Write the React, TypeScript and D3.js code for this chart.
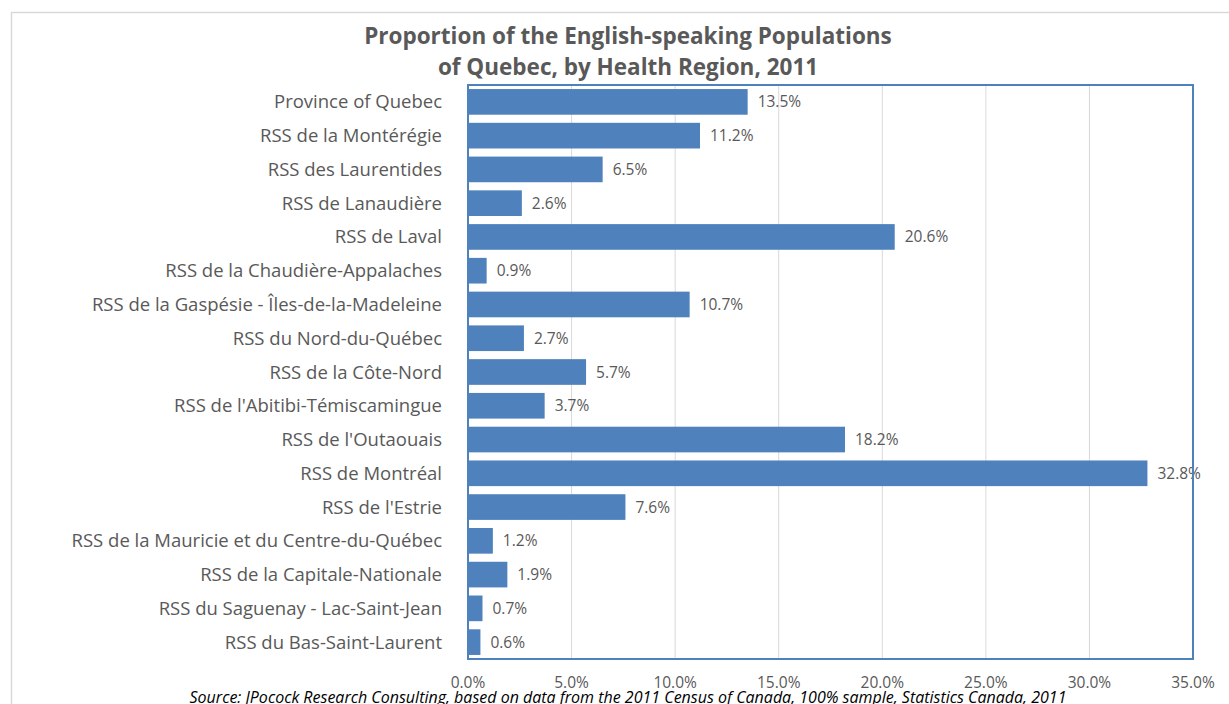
import React from "react";
import * as d3 from "d3";

const categories = [
  "Province of Quebec",
  "RSS de la Montérégie",
  "RSS des Laurentides",
  "RSS de Lanaudière",
  "RSS de Laval",
  "RSS de la Chaudière-Appalaches",
  "RSS de la Gaspésie - Îles-de-la-Madeleine",
  "RSS du Nord-du-Québec",
  "RSS de la Côte-Nord",
  "RSS de l'Abitibi-Témiscamingue",
  "RSS de l'Outaouais",
  "RSS de Montréal",
  "RSS de l'Estrie",
  "RSS de la Mauricie et du Centre-du-Québec",
  "RSS de la Capitale-Nationale",
  "RSS du Saguenay - Lac-Saint-Jean",
  "RSS du Bas-Saint-Laurent",
];
const values = [13.5, 11.2, 6.5, 2.6, 20.6, 0.9, 10.7, 2.7, 5.7, 3.7, 18.2, 32.8, 7.6, 1.2, 1.9, 0.7, 0.6];
const ticks = [0, 5, 10, 15, 20, 25, 30, 35];
const titleLines = ["Proportion of the English-speaking Populations", "of Quebec, by Health Region, 2011"];
const source = "Source: JPocock Research Consulting, based on data from the 2011 Census of Canada, 100% sample, Statistics Canada, 2011";

const W = 1229, H = 704;
const plot = { left: 468, right: 1193, top: 85, bottom: 659 };
const FONT = "'Open Sans', 'Noto Sans', sans-serif";
const GREY = "#595959";
const BLUE = "#4F81BD";

export default function App() {
  const x = d3.scaleLinear().domain([0, 35]).range([plot.left, plot.right]);
  const y = d3.scaleBand<string>().domain(categories).range([plot.top, plot.bottom]).paddingInner(0.24).paddingOuter(0.12);
  return (
    <svg width={W} height={H} style={{ position: "absolute", left: 0, top: 0, background: "#fff" }}>
      <rect x={11.5} y={12.5} width={1240} height={720} fill="#fff" stroke="#D9D9D9" strokeWidth={1.5} />
      {titleLines.map((t, i) => (
        <text key={i} x={628} y={44 + i * 31} textAnchor="middle" fontFamily={FONT} fontWeight="bold" fontSize={22.5} fill={GREY}>
          {t}
        </text>
      ))}
      {ticks.map((t) => (
        <line key={t} x1={x(t)} x2={x(t)} y1={plot.top} y2={plot.bottom} stroke="#D9D9D9" strokeWidth={1} />
      ))}
      {categories.map((c, i) => {
        const by = y(c)!;
        const bh = y.bandwidth();
        return (
          <g key={c}>
            <rect x={x(0)} y={by} width={x(values[i]) - x(0)} height={bh} fill={BLUE} />
            <text x={x(values[i]) + 10} y={by + bh / 2 + 5.5} fontFamily={FONT} fontSize={15.5} fill={GREY}>
              {values[i].toFixed(1)}%
            </text>
            <text x={442} y={by + bh / 2 + 6.5} textAnchor="end" fontFamily={FONT} fontSize={18.5} fill={GREY}>
              {c}
            </text>
          </g>
        );
      })}
      <rect x={plot.left} y={plot.top} width={plot.right - plot.left} height={plot.bottom - plot.top} fill="none" stroke={BLUE} strokeWidth={2} />
      {ticks.map((t) => (
        <text key={t} x={x(t)} y={688} textAnchor="middle" fontFamily={FONT} fontSize={15.5} fill={GREY}>
          {t.toFixed(1)}%
        </text>
      ))}
      <text x={628} y={703} textAnchor="middle" fontFamily={FONT} fontStyle="italic" fontSize={16} fill="#000">
        {source}
      </text>
    </svg>
  );
}
